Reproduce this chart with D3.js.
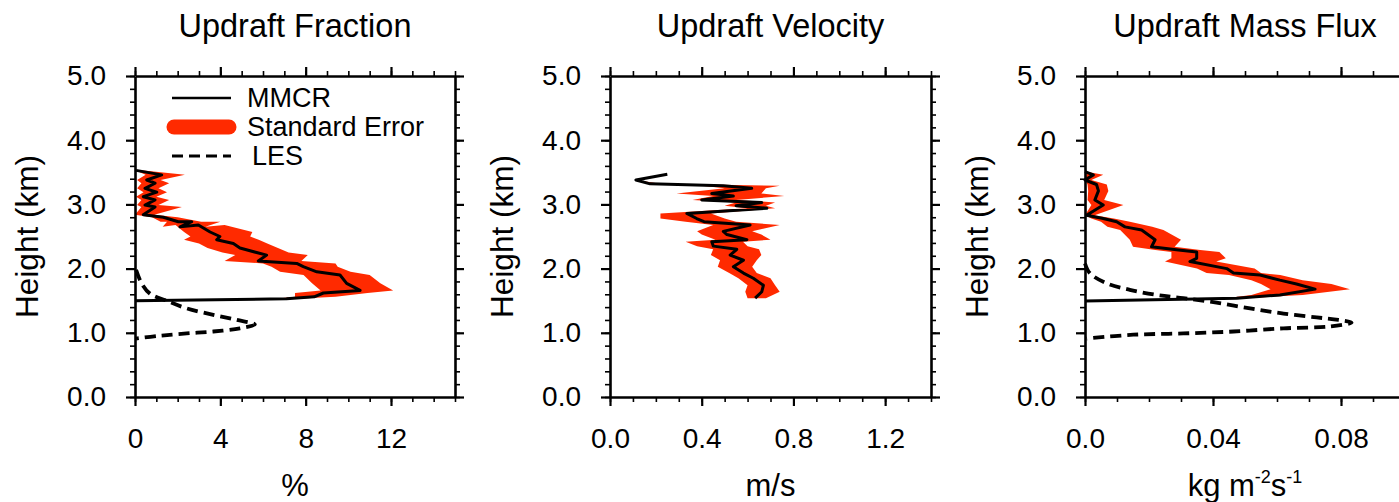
<!DOCTYPE html>
<html>
<head>
<meta charset="utf-8">
<script src="https://cdn.jsdelivr.net/npm/d3@7"></script>
<style>
  body { margin: 0; background: #fff; }
  text { font-family: "Liberation Sans", Arial, Helvetica, sans-serif; }
</style>
</head>
<body>
<div id="chart"></div>
<script>
// ---- data ----
// Updraft Fraction (%)
const fracH  = [3.53,3.46,3.38,3.33,3.25,3.19,3.12,3.07,2.99,2.96,2.84,2.80,2.73,2.73,2.65,2.68,2.57,2.50,2.45,2.39,2.32,2.25,2.21,2.12,2.08,2.03,1.95,1.90,1.77,1.66,1.62,1.56,1.53,1.50];
const fracV  = [0.05,1.25,0.55,0.94,0.47,1.02,0.39,0.94,0.47,0.94,0.39,1.33,2.03,2.66,2.11,2.97,3.52,3.98,3.83,4.61,4.92,5.70,6.17,5.78,7.58,7.89,8.52,9.61,9.92,10.55,8.83,8.4,7.1,0.0];
const fracLo = [0.0,0.5,0.1,0.3,0.1,0.4,0.05,0.3,0.1,0.3,0.0,0.8,1.2,1.5,1.3,1.9,2.3,2.6,2.3,3.0,3.4,4.1,4.7,4.2,6.0,6.4,6.8,7.9,8.3,8.7,7.5,7.5,6.6,0.0];
const fracHi = [0.3,2.34,1.2,1.6,1.1,1.5,1.0,1.6,1.1,2.2,0.9,2.0,3.1,4.0,3.3,4.2,5.5,5.4,5.8,6.2,6.7,7.2,8.1,7.8,9.4,9.5,10.1,11.0,11.5,12.1,10.9,9.4,7.6,0.0];
const fracLesH = [1.98,1.77,1.61,1.50,1.38,1.28,1.20,1.13,1.07,1.02,0.99,0.955,0.91];
const fracLesV = [0.05,0.31,0.70,1.48,2.42,3.67,4.77,5.62,4.92,3.67,2.42,1.17,0.05];

// Updraft Velocity (m/s)
const velH  = [3.47,3.38,3.32,3.29,3.25,3.17,3.13,3.07,3.03,2.98,2.94,2.86,2.78,2.73,2.68,2.58,2.53,2.45,2.42,2.35,2.30,2.21,2.13,2.03,1.93,1.85,1.74,1.64,1.54];
const velV  = [0.25,0.113,0.175,0.494,0.618,0.444,0.538,0.40,0.662,0.55,0.684,0.335,0.378,0.41,0.611,0.494,0.51,0.597,0.444,0.451,0.553,0.524,0.582,0.538,0.582,0.625,0.669,0.662,0.633];
const velLo = [0.25,0.113,0.17,0.40,0.50,0.29,0.45,0.36,0.55,0.50,0.60,0.22,0.22,0.33,0.45,0.38,0.40,0.46,0.33,0.38,0.45,0.44,0.48,0.47,0.52,0.56,0.60,0.59,0.60];
const velHi = [0.25,0.113,0.22,0.74,0.68,0.66,0.76,0.55,0.72,0.68,0.72,0.44,0.50,0.55,0.74,0.62,0.66,0.70,0.58,0.60,0.65,0.66,0.64,0.62,0.64,0.70,0.72,0.74,0.68];

// Updraft Mass Flux (kg m-2 s-1)
const fluxH  = [3.51,3.46,3.38,3.31,3.21,3.07,2.99,2.83,2.78,2.73,2.65,2.60,2.45,2.34,2.29,2.26,2.16,2.11,2.00,1.93,1.90,1.82,1.76,1.68,1.59,1.54,1.495];
const fluxV  = [0,0.0026,0,0.0036,0.0042,0.0031,0.0057,0.0005,0.0057,0.0099,0.0125,0.0177,0.0219,0.0208,0.0292,0.0349,0.0349,0.0328,0.0443,0.0464,0.0547,0.0609,0.0661,0.0719,0.0609,0.0474,0];
const fluxLo = [0,0.0005,0,0.0008,0.001,0.0008,0.002,0,0.002,0.005,0.007,0.011,0.0140,0.0150,0.022,0.027,0.027,0.025,0.035,0.038,0.045,0.052,0.055,0.058,0.052,0.044,0];
const fluxHi = [0.0005,0.0057,0.002,0.0068,0.0073,0.006,0.012,0.003,0.009,0.014,0.0210,0.0245,0.030,0.028,0.036,0.042,0.044,0.041,0.053,0.055,0.061,0.068,0.0770,0.0828,0.068,0.050,0];
const fluxLesH = [2.08,1.93,1.77,1.67,1.59,1.54,1.47,1.38,1.30,1.24,1.20,1.16,1.10,1.07,1.02,0.99,0.97,0.91];
const fluxLesV = [0,0.0015,0.0068,0.014,0.0224,0.0307,0.0411,0.0516,0.062,0.0724,0.0792,0.0833,0.0766,0.062,0.0464,0.0307,0.0151,0.0005];

// axes
const heightTicks = [0, 1, 2, 3, 4, 5];
const fracTicks = [0, 4, 8, 12];
const velTicks = [0.0, 0.4, 0.8, 1.2];
const fluxTicks = [0.0, 0.04, 0.08];
const titles = ["Updraft Fraction", "Updraft Velocity", "Updraft Mass Flux"];
const legendLabels = ["MMCR", "Standard Error", "LES"];

const W = 1399, H = 502;
const RED = "#ff2a00";
const plotTop = 76, plotBottom = 397;

const svg = d3.select("#chart").append("svg")
  .attr("width", W).attr("height", H);

const zip = (h, v, lo, hi) => h.map((d, i) => ({h: d, v: v[i], lo: lo ? lo[i] : null, hi: hi ? hi[i] : null}));

const panels = [
  { title: titles[0], left: 135, width: 320, domain: [0, 15], ticks: fracTicks, fmt: d3.format("d"),
    minor: d3.range(0, 16), unit: "pct",
    mmcr: zip(fracH, fracV, fracLo, fracHi), les: zip(fracLesH, fracLesV) },
  { title: titles[1], left: 610, width: 321, domain: [0, 1.4], ticks: velTicks, fmt: d3.format(".1f"),
    minor: d3.range(0, 15).map(i => i / 10), unit: "ms",
    mmcr: zip(velH, velV, velLo, velHi), les: null },
  { title: titles[2], left: 1085, width: 320, domain: [0, 0.1], ticks: fluxTicks, fmt: d => d === 0 ? "0.0" : d3.format(".2f")(d),
    minor: d3.range(0, 11).map(i => i / 100), unit: "flux",
    mmcr: zip(fluxH, fluxV, fluxLo, fluxHi), les: zip(fluxLesH, fluxLesV) }
];

const y = d3.scaleLinear().domain([0, 5]).range([plotBottom, plotTop]);
const yMinor = d3.range(0, 26).map(i => i / 5);

function styleAxis(g) {
  g.select(".domain").attr("stroke", "#000").attr("stroke-width", 2.6);
  g.selectAll(".tick line").attr("stroke", "#000").attr("stroke-width", 2.2);
  g.selectAll(".tick text").attr("fill", "#000").attr("font-size", 28)
    .attr("font-family", "'Liberation Sans', Arial, Helvetica, sans-serif");
}
function styleMinor(g) {
  g.select(".domain").remove();
  g.selectAll(".tick line").attr("stroke", "#000").attr("stroke-width", 1.6);
}

panels.forEach((p, idx) => {
  const x = d3.scaleLinear().domain(p.domain).range([p.left, p.left + p.width]);
  const g = svg.append("g");

  // standard error band
  const area = d3.area()
    .y(d => y(d.h))
    .x0(d => x(d.lo))
    .x1(d => x(d.hi));
  g.append("path").datum(p.mmcr).attr("d", area).attr("fill", RED).attr("stroke", "none");

  // LES dashed
  if (p.les) {
    const lesLine = d3.line().x(d => x(d.v)).y(d => y(d.h)).curve(d3.curveCatmullRom);
    g.append("path").datum(p.les).attr("d", lesLine)
      .attr("fill", "none").attr("stroke", "#000").attr("stroke-width", 3.8)
      .attr("stroke-dasharray", "11,6");
  }

  // MMCR line
  const line = d3.line().x(d => x(d.v)).y(d => y(d.h));
  g.append("path").datum(p.mmcr).attr("d", line)
    .attr("fill", "none").attr("stroke", "#000").attr("stroke-width", 3)
    .attr("stroke-linejoin", "round");

  // minor ticks
  g.append("g").attr("transform", `translate(0,${plotBottom})`)
    .call(d3.axisBottom(x).tickValues(p.minor).tickSize(5).tickFormat("")).call(styleMinor);
  g.append("g").attr("transform", `translate(0,${plotTop})`)
    .call(d3.axisTop(x).tickValues(p.minor).tickSize(5).tickFormat("")).call(styleMinor);
  g.append("g").attr("transform", `translate(${p.left},0)`)
    .call(d3.axisLeft(y).tickValues(yMinor).tickSize(5).tickFormat("")).call(styleMinor);
  g.append("g").attr("transform", `translate(${p.left + p.width},0)`)
    .call(d3.axisRight(y).tickValues(yMinor).tickSize(5).tickFormat("")).call(styleMinor);

  // major axes
  g.append("g").attr("transform", `translate(0,${plotBottom})`)
    .call(d3.axisBottom(x).tickValues(p.ticks).tickFormat(p.fmt).tickSize(9).tickSizeOuter(0).tickPadding(22))
    .call(styleAxis);
  g.append("g").attr("transform", `translate(0,${plotTop})`)
    .call(d3.axisTop(x).tickValues(p.ticks).tickFormat("").tickSize(9).tickSizeOuter(0))
    .call(styleAxis);
  g.append("g").attr("transform", `translate(${p.left},0)`)
    .call(d3.axisLeft(y).tickValues(heightTicks).tickFormat(d3.format(".1f")).tickSize(9).tickSizeOuter(0).tickPadding(20))
    .call(styleAxis);
  g.append("g").attr("transform", `translate(${p.left + p.width},0)`)
    .call(d3.axisRight(y).tickValues(heightTicks).tickFormat("").tickSize(9).tickSizeOuter(0))
    .call(styleAxis);

  const cx = p.left + p.width / 2;
  // title
  g.append("text").attr("x", cx).attr("y", 37).attr("text-anchor", "middle")
    .attr("font-size", 32.5).text(p.title);
  // y label
  g.append("text")
    .attr("transform", `translate(${p.left - 97},${(plotTop + plotBottom) / 2}) rotate(-90)`)
    .attr("text-anchor", "middle").attr("font-size", 31.5).text("Height (km)");
  // x label
  const xl = g.append("text").attr("x", cx).attr("y", 496).attr("text-anchor", "middle").attr("font-size", 31);
  if (p.unit === "pct") xl.text("%");
  else if (p.unit === "ms") xl.text("m/s");
  else {
    xl.append("tspan").text("kg m");
    xl.append("tspan").attr("dy", -13).attr("font-size", 18).text("-2");
    xl.append("tspan").attr("dy", 13).text("s");
    xl.append("tspan").attr("dy", -13).attr("font-size", 18).text("-1");
  }

  // legend (first panel)
  if (idx === 0) {
    const lg = g.append("g");
    lg.append("line").attr("x1", 172).attr("x2", 231).attr("y1", 98).attr("y2", 98)
      .attr("stroke", "#000").attr("stroke-width", 2.6);
    lg.append("line").attr("x1", 174).attr("x2", 229).attr("y1", 127).attr("y2", 127)
      .attr("stroke", RED).attr("stroke-width", 15).attr("stroke-linecap", "round");
    lg.append("line").attr("x1", 172).attr("x2", 231).attr("y1", 156).attr("y2", 156)
      .attr("stroke", "#000").attr("stroke-width", 3).attr("stroke-dasharray", "11,6");
    lg.append("text").attr("x", 247).attr("y", 107).attr("font-size", 27).text(legendLabels[0]);
    lg.append("text").attr("x", 247).attr("y", 136).attr("font-size", 27).text(legendLabels[1]);
    lg.append("text").attr("x", 252).attr("y", 165).attr("font-size", 27).text(legendLabels[2]);
  }
});
</script>
</body>
</html>
